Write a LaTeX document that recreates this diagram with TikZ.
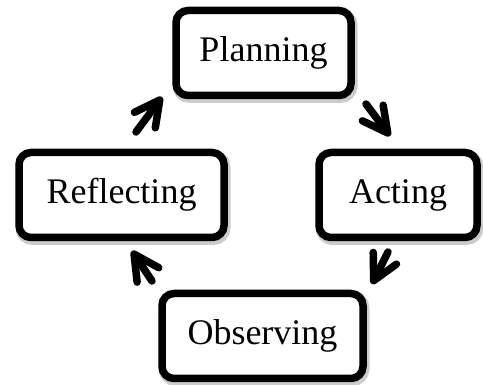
\documentclass[tikz,border=0pt]{standalone}
\usepackage{fontspec}
\setmainfont{Liberation Serif}
\usetikzlibrary{arrows.meta}

\tikzset{
  stage/.style={rectangle, draw, line width=7.5pt, rounded corners=12pt,
    fill=white, minimum height=85pt, font=\fontsize{36}{40}\selectfont,
    preaction={draw=black!20, line width=10pt,
      transform canvas={shift={(1.5pt,-2.5pt)}}}},
  cyc/.style={line width=7.5pt, line cap=round,
    -{Straight Barb[length=25pt, width=26pt, round]}},
}

\begin{document}
\begin{tikzpicture}[x=1pt, y=-1pt, align=center]
\useasboundingbox (0,0) rectangle (483,385);
\path (263.5,53) node[stage, minimum width=175pt] (plan) {Planning}
      (398,195) node[stage, minimum width=158pt] (act) {Acting}
      (262.5,336) node[stage, minimum width=201pt] (obs) {Observing}
      (121.5,195) node[stage, minimum width=205pt] (refl) {Reflecting};

% ends of the short arrows round the cycle
\coordinate (rp0) at (136,132);  \coordinate (rp1) at (162,97);
\coordinate (pa0) at (366,104);  \coordinate (pa1) at (390,136);
\coordinate (ao0) at (388,252);  \coordinate (ao1) at (372,284);
\coordinate (or0) at (152,281);  \coordinate (or1) at (132,251);

\draw[cyc] (rp0) -- (rp1);
\draw[cyc] (pa0) -- (pa1);
\draw[cyc] (ao0) -- (ao1);
\draw[cyc] (or0) -- (or1);

\end{tikzpicture}
\end{document}
